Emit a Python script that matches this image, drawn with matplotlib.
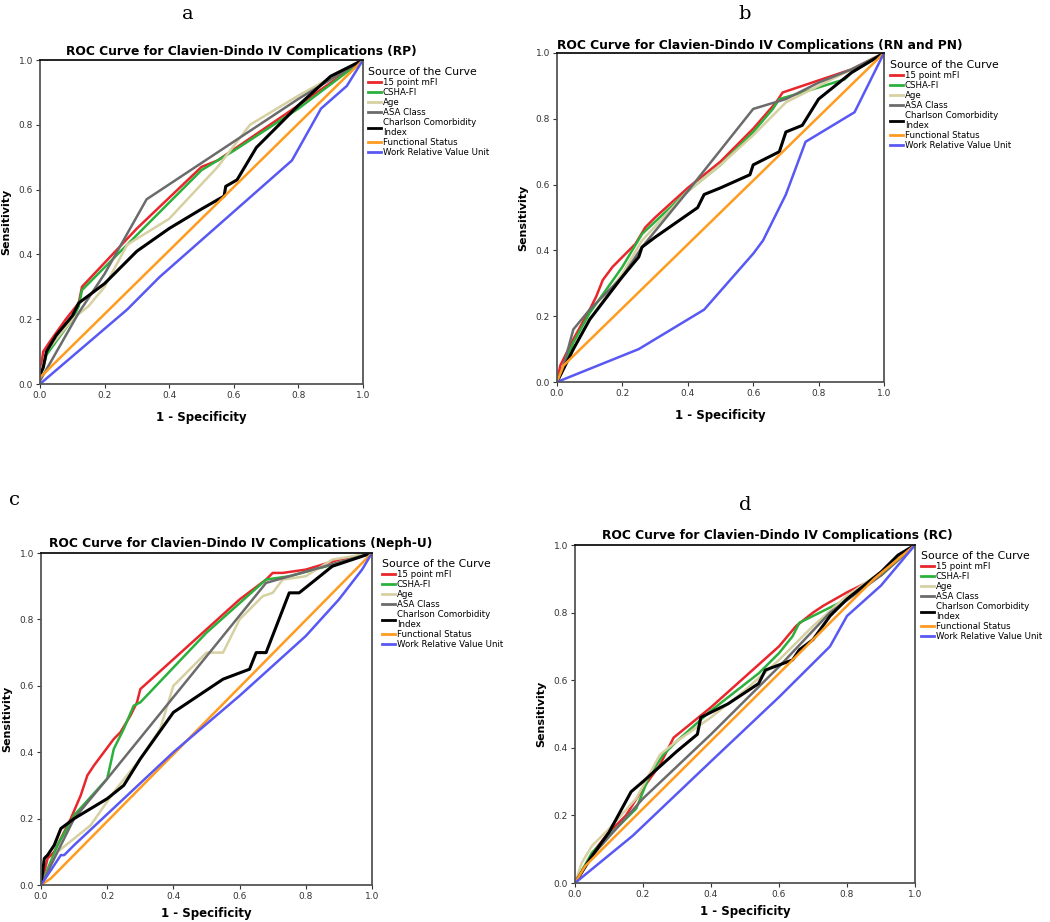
import matplotlib
matplotlib.use("Agg")
import matplotlib.pyplot as plt

W, H = 1050, 922

SERIES = ["15 point mFI", "CSHA-FI", "Age", "ASA Class",
          "Charlson Comorbidity\nIndex", "Functional Status", "Work Relative Value Unit"]
COLORS = ["#e8262c", "#2bb03c", "#d6d0a2", "#6b6b6b", "#000000", "#ff9b1e", "#5858f4"]
WIDTHS = [1.8, 1.8, 1.8, 1.8, 2.2, 1.8, 1.8]

# panel a (RP)
a_mfi_x = [0, 0.01, 0.03, 0.08, 0.12, 0.13, 0.3, 0.5, 0.55, 0.8, 1]
a_mfi_y = [0.03, 0.1, 0.13, 0.2, 0.25, 0.3, 0.48, 0.67, 0.69, 0.86, 1]
a_csha_x = [0, 0.02, 0.1, 0.12, 0.13, 0.3, 0.5, 0.6, 0.8, 1]
a_csha_y = [0.02, 0.09, 0.2, 0.24, 0.29, 0.46, 0.66, 0.72, 0.85, 1]
a_age_x = [0, 0.02, 0.1, 0.15, 0.2, 0.27, 0.4, 0.55, 0.65, 0.8, 1]
a_age_y = [0.02, 0.1, 0.2, 0.24, 0.3, 0.43, 0.51, 0.67, 0.8, 0.89, 1]
a_asa_x = [0, 0.12, 0.2, 0.33, 0.8, 1]
a_asa_y = [0.01, 0.22, 0.34, 0.57, 0.88, 1]
a_cci_x = [0, 0.01, 0.02, 0.05, 0.1, 0.12, 0.2, 0.3, 0.4, 0.5, 0.57, 0.575, 0.61, 0.67, 0.8, 0.9, 1]
a_cci_y = [0.03, 0.05, 0.1, 0.15, 0.21, 0.25, 0.31, 0.41, 0.48, 0.54, 0.58, 0.61, 0.63, 0.73, 0.86, 0.95, 1]
a_fs_x = [0, 1]
a_fs_y = [0.02, 1]
a_rvu_x = [0, 0.27, 0.37, 0.78, 0.87, 0.95, 1]
a_rvu_y = [0, 0.23, 0.33, 0.69, 0.85, 0.92, 1]

# panel b (RN and PN)
b_mfi_x = [0, 0.01, 0.05, 0.1, 0.12, 0.14, 0.17, 0.2, 0.24, 0.27, 0.3, 0.4, 0.5, 0.6, 0.67, 0.69, 0.75, 0.9, 1]
b_mfi_y = [0, 0.05, 0.13, 0.22, 0.26, 0.31, 0.35, 0.38, 0.42, 0.47, 0.5, 0.59, 0.67, 0.77, 0.85, 0.88, 0.9, 0.95, 1]
b_csha_x = [0, 0.05, 0.1, 0.2, 0.26, 0.4, 0.5, 0.6, 0.66, 0.68, 0.75, 0.88, 0.9, 1]
b_csha_y = [0, 0.12, 0.21, 0.35, 0.45, 0.58, 0.66, 0.76, 0.83, 0.86, 0.88, 0.92, 0.94, 1]
b_age_x = [0, 0.05, 0.1, 0.2, 0.26, 0.4, 0.5, 0.6, 0.7, 0.8, 1]
b_age_y = [0, 0.1, 0.19, 0.33, 0.43, 0.58, 0.66, 0.75, 0.85, 0.9, 1]
b_asa_x = [0, 0.02, 0.05, 0.1, 0.2, 0.26, 0.4, 0.6, 0.7, 0.8, 0.9, 1]
b_asa_y = [0, 0.05, 0.16, 0.22, 0.32, 0.41, 0.58, 0.83, 0.86, 0.91, 0.95, 1]
b_cci_x = [0, 0.05, 0.1, 0.2, 0.25, 0.26, 0.3, 0.43, 0.45, 0.5, 0.59, 0.6, 0.68, 0.7, 0.75, 0.8, 0.9, 1]
b_cci_y = [0, 0.1, 0.19, 0.32, 0.38, 0.41, 0.44, 0.53, 0.57, 0.59, 0.63, 0.66, 0.7, 0.76, 0.78, 0.86, 0.94, 1]
b_fs_x = [0, 0.02, 1]
b_fs_y = [0, 0.05, 1]
b_rvu_x = [0, 0.25, 0.45, 0.6, 0.63, 0.7, 0.76, 0.91, 1]
b_rvu_y = [0, 0.1, 0.22, 0.39, 0.43, 0.57, 0.73, 0.82, 1]

# panel c (Neph-U)
c_mfi_x = [0, 0.02, 0.04, 0.06, 0.09, 0.12, 0.14, 0.16, 0.22, 0.24, 0.27, 0.29, 0.3, 0.4, 0.6, 0.68, 0.7, 0.73, 0.8, 0.9, 1]
c_mfi_y = [0, 0.08, 0.1, 0.14, 0.2, 0.27, 0.33, 0.36, 0.44, 0.46, 0.51, 0.55, 0.59, 0.68, 0.86, 0.92, 0.94, 0.94, 0.95, 0.98, 1]
c_csha_x = [0, 0.05, 0.1, 0.2, 0.22, 0.25, 0.28, 0.3, 0.5, 0.68, 0.75, 0.9, 1]
c_csha_y = [0, 0.12, 0.21, 0.32, 0.41, 0.47, 0.54, 0.55, 0.76, 0.92, 0.93, 0.97, 1]
c_age_x = [0, 0.05, 0.1, 0.15, 0.22, 0.3, 0.36, 0.4, 0.5, 0.55, 0.6, 0.67, 0.7, 0.73, 0.8, 0.88, 1]
c_age_y = [0, 0.1, 0.14, 0.18, 0.28, 0.38, 0.47, 0.6, 0.7, 0.7, 0.8, 0.87, 0.88, 0.92, 0.93, 0.98, 1]
c_asa_x = [0, 0.1, 0.2, 0.68, 1]
c_asa_y = [0, 0.2, 0.32, 0.91, 1]
c_cci_x = [0, 0.01, 0.02, 0.04, 0.06, 0.1, 0.15, 0.2, 0.25, 0.3, 0.4, 0.55, 0.63, 0.65, 0.68, 0.75, 0.78, 0.88, 1]
c_cci_y = [0, 0.08, 0.09, 0.12, 0.17, 0.2, 0.23, 0.26, 0.3, 0.38, 0.52, 0.62, 0.65, 0.7, 0.7, 0.88, 0.88, 0.96, 1]
c_fs_x = [0, 0.03, 1]
c_fs_y = [0, 0.02, 1]
c_rvu_x = [0, 0.06, 0.07, 0.1, 0.4, 0.6, 0.8, 0.9, 0.97, 1]
c_rvu_y = [0, 0.09, 0.09, 0.12, 0.4, 0.57, 0.75, 0.86, 0.95, 1]

# panel d (RC)
d_mfi_x = [0, 0.03, 0.06, 0.1, 0.15, 0.2, 0.25, 0.29, 0.4, 0.5, 0.6, 0.65, 0.7, 0.73, 0.8, 0.88, 1]
d_mfi_y = [0, 0.05, 0.1, 0.15, 0.2, 0.28, 0.35, 0.43, 0.52, 0.61, 0.7, 0.76, 0.8, 0.82, 0.86, 0.9, 1]
d_csha_x = [0, 0.05, 0.1, 0.18, 0.2, 0.22, 0.26, 0.3, 0.4, 0.54, 0.6, 0.64, 0.66, 0.72, 0.8, 0.88, 0.9, 1]
d_csha_y = [0, 0.09, 0.14, 0.22, 0.27, 0.32, 0.38, 0.42, 0.51, 0.62, 0.68, 0.73, 0.77, 0.8, 0.84, 0.9, 0.91, 1]
d_age_x = [0, 0.02, 0.05, 0.1, 0.18, 0.25, 0.3, 0.4, 0.5, 0.6, 0.7, 0.8, 0.9, 1]
d_age_y = [0, 0.06, 0.11, 0.16, 0.25, 0.38, 0.42, 0.49, 0.57, 0.66, 0.76, 0.85, 0.92, 1]
d_asa_x = [0, 0.05, 0.2, 0.4, 0.6, 0.75, 0.9, 1]
d_asa_y = [0, 0.08, 0.25, 0.44, 0.64, 0.8, 0.91, 1]
d_cci_x = [0, 0.05, 0.1, 0.165, 0.2, 0.3, 0.36, 0.37, 0.45, 0.54, 0.56, 0.64, 0.66, 0.7, 0.75, 0.8, 0.9, 0.95, 1]
d_cci_y = [0, 0.08, 0.15, 0.27, 0.3, 0.39, 0.44, 0.49, 0.53, 0.59, 0.63, 0.66, 0.69, 0.72, 0.79, 0.84, 0.92, 0.97, 1]
d_fs_x = [0, 0.03, 0.4, 0.88, 1]
d_fs_y = [0, 0.05, 0.42, 0.9, 1]
d_rvu_x = [0, 0.17, 0.4, 0.6, 0.75, 0.8, 0.9, 1]
d_rvu_y = [0, 0.14, 0.36, 0.55, 0.7, 0.79, 0.88, 1]

PANELS = [
    ("a", "ROC Curve for Clavien-Dindo IV Complications (RP)",
     [(a_mfi_x, a_mfi_y), (a_csha_x, a_csha_y), (a_age_x, a_age_y), (a_asa_x, a_asa_y),
      (a_cci_x, a_cci_y), (a_fs_x, a_fs_y), (a_rvu_x, a_rvu_y)]),
    ("b", "ROC Curve for Clavien-Dindo IV Complications (RN and PN)",
     [(b_mfi_x, b_mfi_y), (b_csha_x, b_csha_y), (b_age_x, b_age_y), (b_asa_x, b_asa_y),
      (b_cci_x, b_cci_y), (b_fs_x, b_fs_y), (b_rvu_x, b_rvu_y)]),
    ("c", "ROC Curve for Clavien-Dindo IV Complications (Neph-U)",
     [(c_mfi_x, c_mfi_y), (c_csha_x, c_csha_y), (c_age_x, c_age_y), (c_asa_x, c_asa_y),
      (c_cci_x, c_cci_y), (c_fs_x, c_fs_y), (c_rvu_x, c_rvu_y)]),
    ("d", "ROC Curve for Clavien-Dindo IV Complications (RC)",
     [(d_mfi_x, d_mfi_y), (d_csha_x, d_csha_y), (d_age_x, d_age_y), (d_asa_x, d_asa_y),
      (d_cci_x, d_cci_y), (d_fs_x, d_fs_y), (d_rvu_x, d_rvu_y)]),
]

# layout in pixels: axes box (left, top, right, bottom), title left edge, panel letter, legend corner
LAYOUT = {
    "a": dict(box=(40, 60, 363, 384), title=(66, 52), letter=(188, 14), legend=(366, 65)),
    "b": dict(box=(557, 53, 884, 382), title=(557, 45), letter=(745, 14), legend=(888, 58)),
    "c": dict(box=(41, 553, 372, 885), title=(49, 543), letter=(15, 500), legend=(380, 557)),
    "d": dict(box=(575, 545, 915, 883), title=(602, 535), letter=(745, 505), legend=(919, 549)),
}


def px(x, y):
    return x / W, 1 - y / H


fig = plt.figure(figsize=(W / 100, H / 100), dpi=100)
fig.patch.set_facecolor("white")

for letter, title, curves in PANELS:
    lay = LAYOUT[letter]
    l, t, r, b = lay["box"]
    ax = fig.add_axes([l / W, 1 - b / H, (r - l) / W, (b - t) / H])
    for (xs, ys), name, c, lw in zip(curves, SERIES, COLORS, WIDTHS):
        ax.plot(xs, ys, color=c, lw=lw, label=name, solid_joinstyle="round")
    ax.set_xlim(0, 1)
    ax.set_ylim(0, 1)
    ticks = [0.0, 0.2, 0.4, 0.6, 0.8, 1.0]
    ax.set_xticks(ticks)
    ax.set_yticks(ticks)
    ax.set_xticklabels([f"{v:.1f}" for v in ticks])
    ax.set_yticklabels([f"{v:.1f}" for v in ticks])
    ax.tick_params(labelsize=6.5, length=3, width=0.8, colors="#333", pad=2)
    for s in ax.spines.values():
        s.set_color("#555")
        s.set_linewidth(1.3)
    ax.spines["top"].set_color("#111")
    # bottom row sits close to the figure edge
    ax.set_xlabel("1 - Specificity", fontsize=8.5, fontweight="bold",
                  labelpad=8 if letter in "ab" else 4)
    ax.set_ylabel("Sensitivity", fontsize=8, fontweight="bold", labelpad=5)

    tx, ty = px(*lay["title"])
    fig.text(tx, ty, title, ha="left", va="center", fontsize=8.8, fontweight="bold")
    lx, ly = px(*lay["letter"])
    fig.text(lx, ly, letter, ha="center", va="center", fontsize=14, family="DejaVu Serif")

    gx, gy = px(*lay["legend"])
    leg = ax.legend(loc="upper left", bbox_to_anchor=(gx, gy), bbox_transform=fig.transFigure,
                    frameon=False, title="Source of the Curve", fontsize=6.2,
                    title_fontsize=7.8, handlelength=1.5, handletextpad=0.25,
                    labelspacing=0.12, borderaxespad=0, borderpad=0.2)
    leg._legend_box.align = "left"
    for line in leg.get_lines():
        line.set_linewidth(2)

fig.savefig("out.png", dpi=100, facecolor="white")
